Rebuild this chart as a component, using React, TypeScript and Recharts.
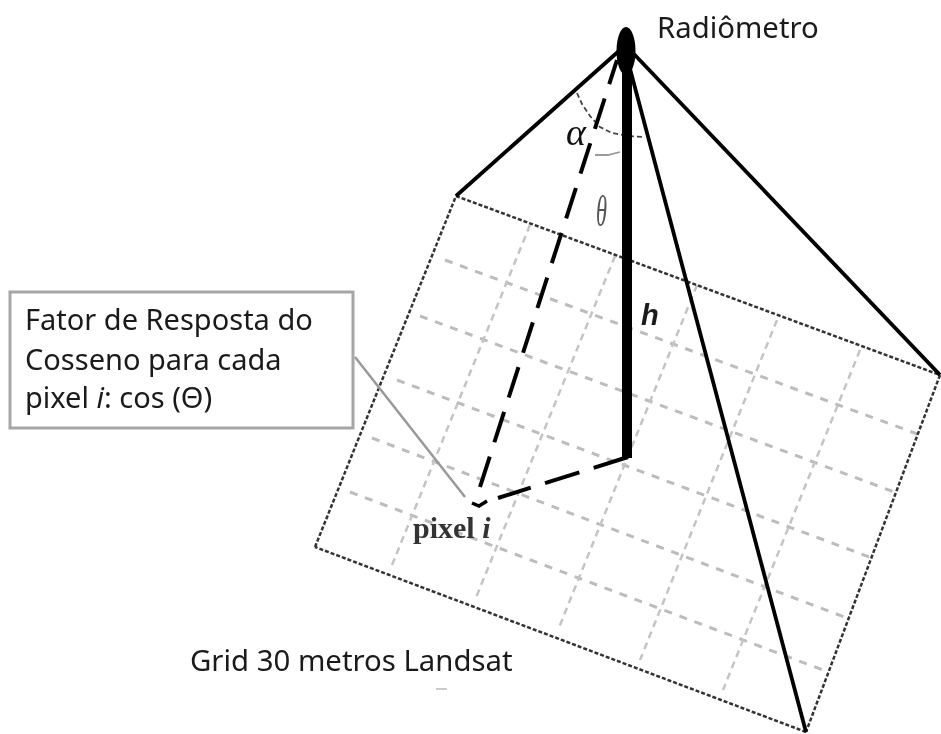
import { ComposedChart, Line, XAxis, YAxis, ReferenceArea, ReferenceDot } from "recharts";
import type { ReactNode } from "react";

type Pt = { x: number; y: number };

const frameEdges: Pt[][] = [
  [{ x: 456, y: 196 }, { x: 940, y: 375 }],
  [{ x: 940, y: 375 }, { x: 806, y: 732 }],
  [{ x: 806, y: 732 }, { x: 315, y: 547 }],
  [{ x: 315, y: 547 }, { x: 456, y: 196 }],
];

const gridAcross: Pt[][] = [
  [{ x: 445, y: 260 }, { x: 920, y: 435 }],
  [{ x: 420, y: 316 }, { x: 897, y: 493 }],
  [{ x: 397, y: 380 }, { x: 872, y: 558 }],
  [{ x: 372, y: 438 }, { x: 847, y: 618 }],
  [{ x: 350, y: 492 }, { x: 823, y: 670 }],
];

const gridDown: Pt[][] = [
  [{ x: 530, y: 225 }, { x: 390, y: 570 }],
  [{ x: 615, y: 256 }, { x: 475, y: 600 }],
  [{ x: 697, y: 285 }, { x: 558, y: 630 }],
  [{ x: 777, y: 320 }, { x: 640, y: 660 }],
  [{ x: 860, y: 350 }, { x: 723, y: 690 }],
];

const solidRays: Pt[][] = [
  [{ x: 620, y: 50 }, { x: 456, y: 196 }],
  [{ x: 632, y: 52 }, { x: 940, y: 375 }],
  [{ x: 629, y: 65 }, { x: 806, y: 732 }],
];

const heightLine: Pt[] = [{ x: 627, y: 60 }, { x: 627, y: 458 }];
const dashedToPixel: Pt[] = [{ x: 480, y: 487 }, { x: 617, y: 60 }];
const dashedFromFoot: Pt[] = [{ x: 628, y: 457 }, { x: 498, y: 498 }];
const pixelHook: Pt[] = [{ x: 472, y: 503 }, { x: 479, y: 506 }, { x: 487, y: 501 }];
const leader: Pt[] = [{ x: 355, y: 357 }, { x: 465, y: 497 }];
const stray: Pt[] = [{ x: 436, y: 689 }, { x: 447, y: 689 }];

const alphaArc: Pt[] = [
  { x: 577, y: 93 }, { x: 582, y: 104 }, { x: 590, y: 116 }, { x: 600, y: 127 },
  { x: 612, y: 133 }, { x: 628, y: 136 }, { x: 645, y: 137 },
];
const thetaArc: Pt[] = [{ x: 595, y: 155 }, { x: 608, y: 155 }, { x: 620, y: 152 }];

const sensor: Pt = { x: 626, y: 51 };
const calloutBox = { x1: 10, x2: 353, y1: 292, y2: 428 };

const calloutLines = ["Fator de Resposta do", "Cosseno para cada"];
const sansFont = "'Noto Sans', sans-serif";
const serifFont = "'Liberation Serif', serif";

const textShape = (children: ReactNode, style: Record<string, unknown>) => (p: any) => (
  <text x={p.cx} y={p.cy} fill="#1a1a1a" {...style}>
    {children}
  </text>
);

export default function App() {
  const seg = (key: string, data: Pt[], stroke: string, width: number, dash?: string) => (
    <Line
      key={key}
      data={data}
      dataKey="y"
      stroke={stroke}
      strokeWidth={width}
      strokeDasharray={dash}
      dot={false}
      activeDot={false}
      legendType="none"
      isAnimationActive={false}
    />
  );

  const sans = { fontFamily: sansFont, fontSize: 29 };

  return (
    <div style={{ position: "absolute", left: 0, top: 0, width: 941, height: 734, background: "#fff", filter: "blur(0.7px)" }}>
      <ComposedChart width={941} height={734} margin={{ top: 0, right: 0, bottom: 0, left: 0 }}>
        <XAxis type="number" dataKey="x" domain={[0, 941]} hide allowDataOverflow />
        <YAxis type="number" domain={[0, 734]} reversed hide allowDataOverflow />

        {gridAcross.map((d, i) => seg(`across${i}`, d, "#bcbcbc", 3, "8 8"))}
        {gridDown.map((d, i) => seg(`down${i}`, d, "#c4c4c4", 2.5, "7 5"))}
        {frameEdges.map((d, i) => seg(`edge${i}`, d, "#333", 2.5, "4 2"))}
        {solidRays.map((d, i) => seg(`ray${i}`, d, "#000", 3.8))}
        {seg("alpha", alphaArc, "#444", 1.8, "5 3")}
        {seg("theta", thetaArc, "#999", 1.8)}
        {seg("height", heightLine, "#000", 10)}
        {seg("toPixel", dashedToPixel, "#000", 4, "32 15")}
        {seg("fromFoot", dashedFromFoot, "#000", 4, "36 15")}
        {seg("hook", pixelHook, "#000", 3.5)}
        {seg("stray", stray, "#bbb", 1.5)}

        <ReferenceArea {...calloutBox} fill="#fff" fillOpacity={1} stroke="#a6a6a6" strokeWidth={3} ifOverflow="visible" />
        {seg("leader", leader, "#999", 2.5)}

        <ReferenceDot
          x={sensor.x}
          y={sensor.y}
          ifOverflow="visible"
          shape={(p: any) => <ellipse cx={p.cx} cy={p.cy} rx={9.5} ry={24} fill="#000" />}
        />

        <ReferenceDot x={657} y={38} ifOverflow="visible" shape={textShape("Radiômetro", { ...sans, fontSize: 29.3 })} />
        <ReferenceDot x={190} y={671} ifOverflow="visible" shape={textShape("Grid 30 metros Landsat", { ...sans, fontSize: 29.35 })} />
        <ReferenceDot x={25} y={330} ifOverflow="visible" shape={textShape(calloutLines[0], sans)} />
        <ReferenceDot x={25} y={370} ifOverflow="visible" shape={textShape(calloutLines[1], sans)} />
        <ReferenceDot
          x={25}
          y={408}
          ifOverflow="visible"
          shape={textShape(
            <>
              pixel <tspan fontStyle="italic">i</tspan>: cos (Θ)
            </>,
            sans,
          )}
        />
        <ReferenceDot
          x={566}
          y={145}
          ifOverflow="visible"
          shape={textShape("α", { fontFamily: serifFont, fontStyle: "italic", fontSize: 38, fill: "#111" })}
        />
        <ReferenceDot
          x={596}
          y={226}
          ifOverflow="visible"
          shape={textShape("θ", { fontFamily: serifFont, fontStyle: "italic", fontSize: 44, fill: "#555", textLength: 11, lengthAdjust: "spacingAndGlyphs" })}
        />
        <ReferenceDot
          x={641}
          y={325}
          ifOverflow="visible"
          shape={textShape("h", { fontFamily: "'Liberation Sans', sans-serif", fontStyle: "italic", fontWeight: 700, fontSize: 29 })}
        />
        <ReferenceDot
          x={413}
          y={538}
          ifOverflow="visible"
          shape={textShape(
            <>
              pixel <tspan fontStyle="italic">i</tspan>
            </>,
            { fontFamily: serifFont, fontWeight: 700, fontSize: 30, fill: "#333" },
          )}
        />
      </ComposedChart>
    </div>
  );
}
